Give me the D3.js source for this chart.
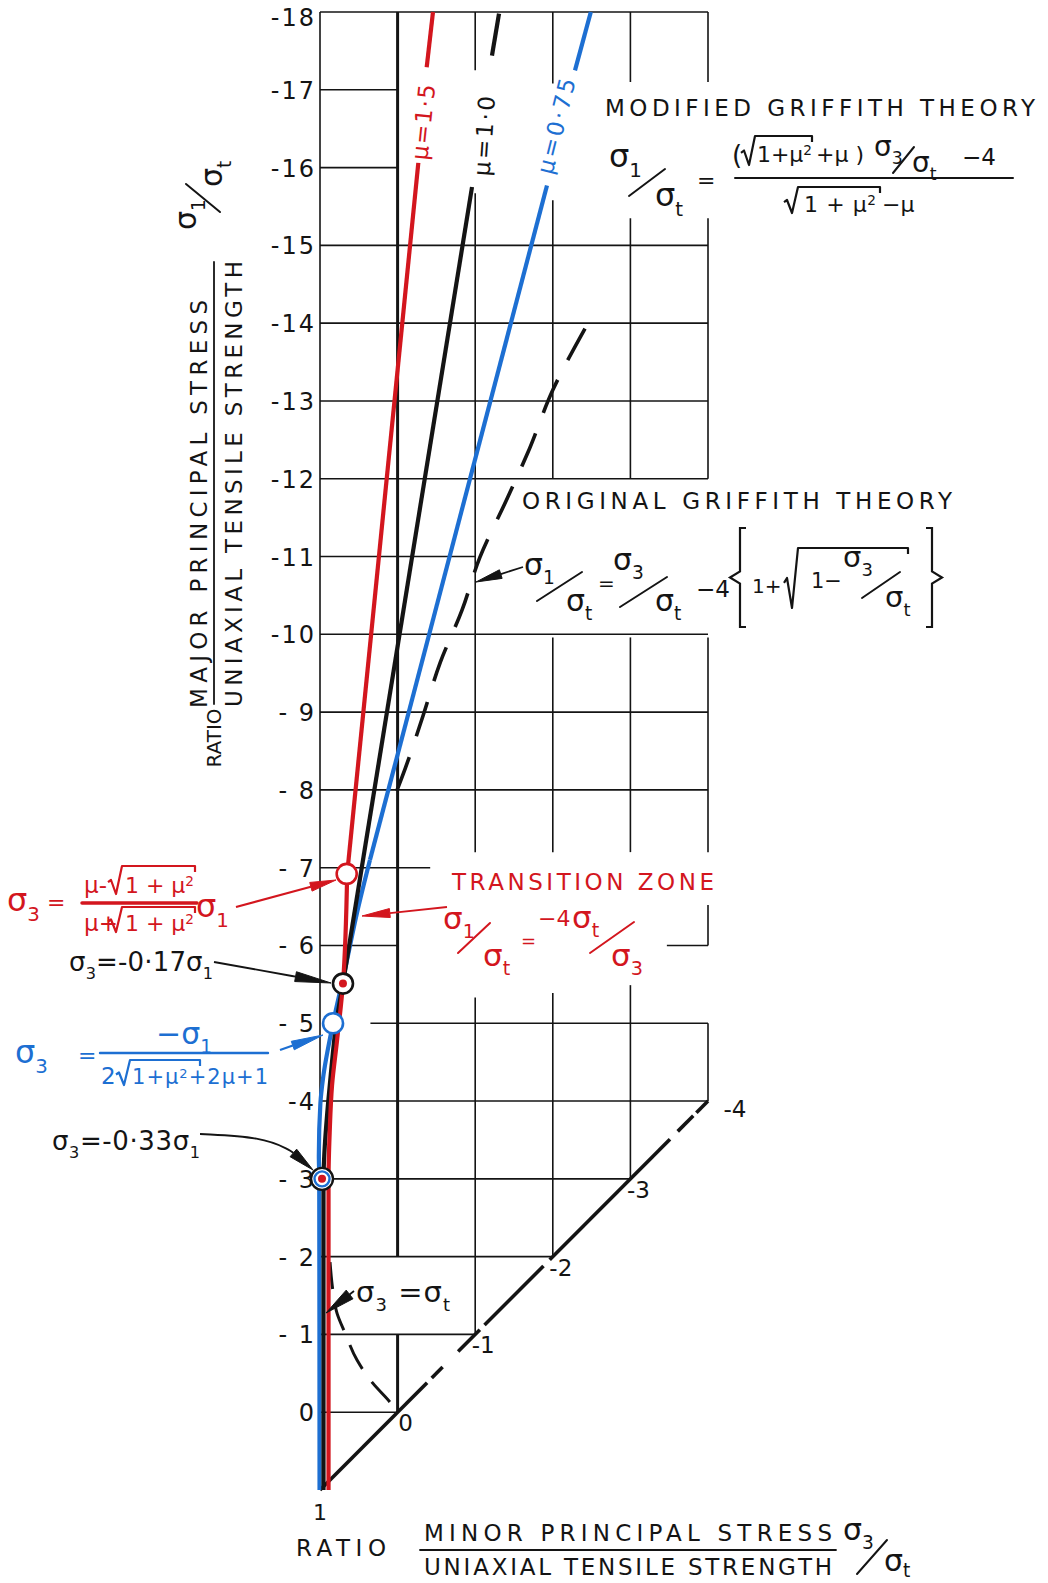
<!DOCTYPE html>
<html>
<head>
<meta charset="utf-8">
<title>Griffith theory</title>
<script src="https://cdn.jsdelivr.net/npm/d3@7"></script>
<style>
    html, body { margin: 0; padding: 0; background: #fff; }
    svg { display: block; }
    text { font-family: "DejaVu Sans", "Open Sans", sans-serif; }
</style>
</head>
<body>
<div id="render-zone"></div>
<script>
/* values are stress ratios [sigma3/sigma_t, sigma1/sigma_t] */
var sigma1Ticks = [-18, -17, -16, -15, -14, -13, -12, -11, -10, -9, -8, -7, -6, -5, -4, -3, -2, -1, 0];
var sigma1TickLabels = ["-18", "-17", "-16", "-15", "-14", "-13", "-12", "-11", "-10", "- 9", "- 8", "- 7", "- 6", "- 5", "-4", "- 3", "- 2", "- 1", "0"];
var diagTicks = [0, -1, -2, -3, -4];
var diagTickLabels = ["0", "-1", "-2", "-3", "-4"];
var muLabels = ["μ=1·5", "μ=1·0", "μ=0·75"];

/* modified griffith, mu = 1.5 */
var mu15Top = [[-0.456, -18], [-0.375, -17.29]];
var mu15Line = [[-0.267, -16.06], [0.65, -6.92]];
var mu15Knee = [[0.65, -6.92], [0.704, -5.51], [0.78, -4.78], [0.845, -4.2], [0.875, -3.6], [0.89, -3.0], [0.89, 1]];
/* modified griffith, mu = 1.0 */
var mu10Line = [[-0.959, -15.75], [0.704, -5.51]];
var mu10Knee = [[0.704, -5.51], [0.79, -5.0], [0.86, -4.35], [0.896, -3.97], [0.945, -3.3], [0.955, -3.0], [0.955, 1]];
var mu10Dash = [[-1.216, -17.44], [-1.307, -17.98]];
/* modified griffith, mu = 0.75 */
var mu075Top = [[-2.49, -18], [-2.286, -17.25]];
var mu075Line = [[-1.925, -15.77], [0.356, -7.1]];
var mu075Knee = [[0.356, -7.1], [0.523, -6.42], [0.678, -5.69], [0.832, -5.0], [0.96, -4.3], [0.995, -3.97], [1.015, -3.3], [1.01, -3.0], [1.006, 1]];
/* original griffith (dashed) */
var griffithCurve = [[-2.415, -13.93], [-2.0, -13.14], [-1.68, -12.34], [-1.40, -11.72], [-1.06, -10.99], [-0.83, -10.31], [-0.55, -9.64], [-0.33, -8.96], [-0.10, -8.28], [0.10, -7.76]];
var griffithTension = [[0.871, -1.93], [0.832, -1.55], [0.78, -1.27], [0.678, -1.02], [0.523, -0.67], [0.317, -0.37], [0.098, -0.13], [0, 0]];
/* sigma1 = sigma3 line, drawn in runs */
var diagonalRuns = [[1, -0.38], [-0.44, -0.58], [-0.78, -1.06], [-1.12, -1.88], [-1.96, -3.51], [-3.61, -3.81], [-3.85, -4]];
/* points marked with circles */
var pointOpenRed = [0.656, -6.92];
var pointDotRed = [0.704, -5.51];
var pointOpenBlue = [0.832, -5.0];
var pointTriple = [0.974, -3.0];
/* grid runs: rows [sigma1, [[s3from, s3to]..]], cols [sigma3, [[s1from, s1to]..]] */
var gridRows = [
    [-18, [[1, -4]]], [-17, [[1, 0]]], [-16, [[1, 0]]], [-15, [[1, -4]]], [-14, [[1, -4]]],
    [-13, [[1, -4]]], [-12, [[1, -4]]], [-11, [[1, -1]]], [-10, [[1, -4]]], [-9, [[1, -4]]],
    [-8, [[1, -4]]], [-7, [[1, -0.42]]], [-6, [[1, 0], [-3.47, -4]]], [-5, [[0.35, -4]]],
    [-4, [[1, -4]]], [-3, [[1, -3]]], [-2, [[1, -2]]], [-1, [[1, -1]]], [0, [[1, 0]]]
];
var gridCols = [
    [1, [[1, -18]]],
    [-1, [[-18, -17.25], [-15.67, -7.2], [-5.33, -1]]],
    [-2, [[-18, -17.08], [-15.58, -12], [-9.96, -7.2], [-5.39, -2]]],
    [-3, [[-18, -17.1], [-15.35, -12], [-9.96, -7.2], [-5.49, -3]]],
    [-4, [[-18, -17.1], [-15.35, -12], [-9.96, -7.2], [-6.52, -6], [-5, -4]]]
];
var zeroColRuns = [[-18, -2], [-1, 0]];

(function( w ) {

"use strict";

var _d, _x, _y, _svg,
    _rich, _slash, _radical, _arrow, _bracket, _fit,
    _drawGrid, _drawCurves, _drawMarkers, _drawAxes, _drawNotes,
    domEntry;

/* default settings */
_d = {
    width : 1048,
    height : 1583,
    ink : "#141414",
    red : "#d3161e",
    blue : "#1d6fd2",
    grid : 1.6,
    curve : 4.2
};

/* _rich
 * text made of pieces; a piece is a string or [text, level]
 * level 1 = subscript, -1 = superscript
 */
_rich = function( g, x, y, parts, size, fill, anchor ) {
    var t = g.append("text")
            .attr("x", x).attr("y", y)
            .attr("font-size", size)
            .attr("fill", fill || _d.ink)
            .attr("text-anchor", anchor || "start"),
        shift = 0;

    parts.forEach(function( p ) {
        var txt = ( typeof p === "string" ) ? p : p[0],
            lvl = ( typeof p === "string" ) ? 0 : p[1],
            off = lvl * size * 0.3,
            ts = t.append("tspan").text( txt ).attr("dy", off - shift);
        if( lvl !== 0 ){ ts.attr("font-size", size * 0.62); }
        shift = off;
    });
    return t;
};

/* squeeze or stretch a text to a width */
_fit = function( t, len ) {
    return t.attr("textLength", len).attr("lengthAdjust", "spacing");
};

_slash = function( g, x1, y1, x2, y2, col, lw ) {
    g.append("line")
        .attr("x1", x1).attr("y1", y1).attr("x2", x2).attr("y2", y2)
        .attr("stroke", col || _d.ink)
        .attr("stroke-width", lw || 2)
        .attr("stroke-linecap", "round");
};

/* _radical: root sign, x = left, yb = bottom, yt = top of the bar, x2 = bar end */
_radical = function( g, x, yb, yt, x2, col ) {
    var h = yb - yt;
    g.append("path")
        .attr("d", "M" + x + "," + (yb - h * 0.42) +
                   "L" + (x + 3) + "," + (yb - h * 0.5) +
                   "L" + (x + 8) + "," + yb +
                   "L" + (x + 14) + "," + yt +
                   "L" + x2 + "," + yt +
                   "L" + x2 + "," + (yt + 6))
        .attr("fill", "none")
        .attr("stroke", col || _d.ink)
        .attr("stroke-width", 2.2)
        .attr("stroke-linejoin", "round");
};

/* _arrow: leader through pts, wedge head at the last point */
_arrow = function( g, pts, len, wid, col, lw, curved ) {
    var n = pts.length,
        tip = pts[n - 1], prev = pts[n - 2],
        dx = tip[0] - prev[0], dy = tip[1] - prev[1],
        dd = Math.sqrt( dx * dx + dy * dy ),
        ux = dx / dd, uy = dy / dd,
        bx = tip[0] - ux * len, by = tip[1] - uy * len,
        path = pts.slice(0, n - 1).concat([[bx, by]]),
        ln = d3.line().curve( curved ? d3.curveBasis : d3.curveLinear );

    g.append("path")
        .attr("d", ln( path ))
        .attr("fill", "none")
        .attr("stroke", col)
        .attr("stroke-width", lw || 1.8);

    g.append("path")
        .attr("d", "M" + tip[0] + "," + tip[1] +
                   "L" + (bx - uy * wid / 2) + "," + (by + ux * wid / 2) +
                   "L" + (bx + uy * wid / 2) + "," + (by - ux * wid / 2) + "Z")
        .attr("fill", col)
        .attr("stroke", col)
        .attr("stroke-width", 1)
        .attr("stroke-linejoin", "round");
};

/* _bracket: square brace with a point, dir -1 points left, 1 points right */
_bracket = function( g, x, yt, yb, dir ) {
    var ym = ( yt + yb ) / 2,
        xs = x + dir * 10;
    g.append("path")
        .attr("d", "M" + (x - dir * 6) + "," + yt + "L" + x + "," + yt +
                   "L" + x + "," + (ym - 6) + "L" + xs + "," + ym +
                   "L" + x + "," + (ym + 6) + "L" + x + "," + yb +
                   "L" + (x - dir * 6) + "," + yb)
        .attr("fill", "none")
        .attr("stroke", _d.ink)
        .attr("stroke-width", 2.2);
};

/* _drawGrid
 * square grid above the sigma1 = sigma3 line, with gaps round the lettering
 */
_drawGrid = function( g ) {
    gridRows.forEach(function( r ) {
        r[1].forEach(function( s ) {
            g.append("line")
                .attr("x1", _x( s[0] )).attr("x2", _x( s[1] ))
                .attr("y1", _y( r[0] )).attr("y2", _y( r[0] ))
                .attr("stroke", _d.ink).attr("stroke-width", _d.grid);
        });
    });
    gridCols.forEach(function( c ) {
        c[1].forEach(function( s ) {
            g.append("line")
                .attr("x1", _x( c[0] )).attr("x2", _x( c[0] ))
                .attr("y1", _y( s[0] )).attr("y2", _y( s[1] ))
                .attr("stroke", _d.ink).attr("stroke-width", _d.grid);
        });
    });
    zeroColRuns.forEach(function( s ) {
        g.append("line")
            .attr("x1", _x( 0 )).attr("x2", _x( 0 ))
            .attr("y1", _y( s[0] )).attr("y2", _y( s[1] ))
            .attr("stroke", _d.ink).attr("stroke-width", 3);
    });
};

_drawCurves = function( g ) {
    var straight = d3.line().x(function( d ){ return _x( d[0] ); }).y(function( d ){ return _y( d[1] ); }),
        bend = d3.line().x(function( d ){ return _x( d[0] ); }).y(function( d ){ return _y( d[1] ); })
                 .curve( d3.curveMonotoneY ),
        put = function( data, gen, col, lw, dash ) {
            var p = g.append("path")
                .attr("d", gen( data ))
                .attr("fill", "none")
                .attr("stroke", col)
                .attr("stroke-width", lw);
            if( dash ){ p.attr("stroke-dasharray", dash); }
            return p;
        };

    /* sigma1 = sigma3 */
    diagonalRuns.forEach(function( r ) {
        put( [[r[0], r[0]], [r[1], r[1]]], straight, _d.ink, 3.6 );
    });

    /* original griffith */
    put( griffithCurve, bend, _d.ink, 3.6, "36,22" );
    put( griffithTension, bend, _d.ink, 3, "27,16" );

    /* modified griffith */
    put( mu075Top, straight, _d.blue, _d.curve );
    put( mu075Line, straight, _d.blue, _d.curve );
    put( mu075Knee, bend, _d.blue, _d.curve );

    put( mu10Dash, straight, _d.ink, _d.curve );
    put( mu10Line, straight, _d.ink, _d.curve );
    put( mu10Knee, bend, _d.ink, _d.curve );

    put( mu15Top, straight, _d.red, _d.curve );
    put( mu15Line, straight, _d.red, _d.curve );
    put( mu15Knee, bend, _d.red, _d.curve );

    /* line labels */
    [
        { t : muLabels[0], x : 423, y : 122, r : -84, c : _d.red,  len : 76 },
        { t : muLabels[1], x : 484, y : 136, r : -86, c : _d.ink,  len : 80 },
        { t : muLabels[2], x : 556, y : 126, r : -76, c : _d.blue, len : 98 }
    ].forEach(function( l ) {
        _fit( g.append("text")
            .attr("transform", "translate(" + l.x + "," + l.y + ") rotate(" + l.r + ")")
            .attr("text-anchor", "middle")
            .attr("dy", "0.36em")
            .attr("font-size", 23)
            .attr("fill", l.c)
            .text( l.t ), l.len );
    });
};

_drawMarkers = function( g ) {
    var ring = function( p, r, col, fill, lw ) {
        g.append("circle")
            .attr("cx", _x( p[0] )).attr("cy", _y( p[1] )).attr("r", r)
            .attr("fill", fill).attr("stroke", col || "none").attr("stroke-width", lw || 0);
    };
    ring( pointOpenRed, 10, _d.red, "#fff", 2.6 );
    ring( pointOpenBlue, 10, _d.blue, "#fff", 2.6 );
    ring( pointDotRed, 10, _d.ink, "#fff", 2.6 );
    ring( pointDotRed, 4, null, _d.red );
    ring( pointTriple, 11, _d.ink, "#fff", 2.4 );
    ring( pointTriple, 7.5, _d.blue, "#fff", 2.4 );
    ring( pointTriple, 4, null, _d.red );
};

_drawAxes = function( g ) {
    var rot, yl;

    /* sigma1 tick labels */
    g.selectAll("text.ytick")
        .data( sigma1Ticks )
        .enter().append("text")
        .attr("class", "ytick")
        .attr("x", 316)
        .attr("y", function( d ){ return _y( d ) + ( d === -18 ? 14 : 9 ); })
        .attr("text-anchor", "end")
        .attr("font-size", 24)
        .attr("letter-spacing", 2)
        .attr("fill", _d.ink)
        .text(function( d, i ){ return sigma1TickLabels[i]; });

    /* labels along sigma1 = sigma3 */
    g.selectAll("text.dtick")
        .data( diagTicks )
        .enter().append("text")
        .attr("class", "dtick")
        .attr("x", function( d ){ return _x( d ) + ( d === -4 ? 27 : 8 ); })
        .attr("y", function( d ){ return _y( d ) + ( d === -4 ? 16 : 19 ); })
        .attr("text-anchor", "middle")
        .attr("font-size", 23)
        .attr("fill", _d.ink)
        .text(function( d, i ){ return diagTickLabels[i]; });

    g.append("text")
        .attr("x", _x( 1 )).attr("y", 1520)
        .attr("text-anchor", "middle")
        .attr("font-size", 22)
        .attr("fill", _d.ink)
        .text("1");

    /* x title */
    _fit( _rich( g, 296, 1556, ["RATIO"], 23 ), 90 );
    _fit( _rich( g, 424, 1541, ["MINOR PRINCIPAL STRESS"], 23 ), 408 );
    _slash( g, 420, 1550, 836, 1550, _d.ink, 1.8 );
    _fit( _rich( g, 424, 1575, ["UNIAXIAL TENSILE STRENGTH"], 23 ), 408 );
    _rich( g, 843, 1540, ["σ", ["3", 1]], 30 );
    _slash( g, 857, 1574, 887, 1540 );
    _rich( g, 884, 1571, ["σ", ["t", 0.7]], 30 );

    /* y title */
    rot = function( x, y ){ return "translate(" + x + "," + y + ") rotate(-90)"; };
    _fit( _rich( g, 0, 0, ["MAJOR PRINCIPAL STRESS"], 23, _d.ink, "middle" )
        .attr("transform", rot( 207, 504 )), 408 );
    _slash( g, 214, 262, 214, 704, _d.ink, 1.8 );
    _fit( _rich( g, 0, 0, ["UNIAXIAL TENSILE STRENGTH"], 23, _d.ink, "middle" )
        .attr("transform", rot( 242, 484 )), 446 );
    _rich( g, 0, 0, ["RATIO"], 20, _d.ink, "middle" )
        .attr("transform", rot( 221, 738 ));

    yl = g.append("g").attr("transform", rot( 198, 192 ));
    _rich( yl, -38, -2, ["σ", ["1", 1]], 30 );
    _slash( yl, -20, 22, 8, -12 );
    _rich( yl, 5, 24, ["σ", ["t", 1]], 30 );
};

/* _drawNotes
 * the lettering round the curves
 */
_drawNotes = function( g ) {
    var R = _d.red, B = _d.blue, K = _d.ink;

    /* modified griffith */
    _fit( _rich( g, 605, 116, ["MODIFIED GRIFFITH THEORY"], 23 ), 430 );
    _rich( g, 609, 167, ["σ", ["1", 1]], 32 );
    _slash( g, 629, 196, 665, 169 );
    _rich( g, 655, 206, ["σ", ["t", 1]], 32 );
    _rich( g, 697, 188, ["="], 22 );
    _rich( g, 732, 164, ["("], 26 );
    _radical( g, 741, 165, 136, 812 );
    _fit( _rich( g, 757, 162, ["1+μ", ["2", -1]], 22 ), 55 );
    _rich( g, 816, 162, ["+μ )"], 22 );
    _rich( g, 874, 156, ["σ", ["3", 1]], 28 );
    _slash( g, 893, 173, 914, 147 );
    _rich( g, 912, 172, ["σ", ["t", 1]], 28 );
    _rich( g, 962, 165, ["−4"], 23 );
    _slash( g, 735, 178, 1013, 178 );
    _radical( g, 784, 213, 187, 880 );
    _fit( _rich( g, 804, 212, ["1 + μ", ["2", -1]], 22 ), 72 );
    _rich( g, 882, 212, ["−μ"], 22 );

    /* original griffith */
    _fit( _rich( g, 522, 509, ["ORIGINAL GRIFFITH THEORY"], 23 ), 430 );
    _arrow( g, [[523, 567], [476, 582]], 26, 9, K, 1.8 );
    _rich( g, 524, 575, ["σ", ["1", 1]], 30 );
    _slash( g, 537, 601, 582, 572 );
    _rich( g, 566, 611, ["σ", ["t", 1]], 30 );
    _rich( g, 598, 590, ["="], 20 );
    _rich( g, 613, 570, ["σ", ["3", 1]], 30 );
    _slash( g, 620, 607, 667, 577 );
    _rich( g, 655, 611, ["σ", ["t", 1]], 30 );
    _rich( g, 696, 597, ["−4"], 23 );
    _bracket( g, 740, 528, 627, -1 );
    _rich( g, 752, 593, ["1+"], 20 );
    _radical( g, 784, 608, 548, 908 );
    _rich( g, 811, 588, ["1−"], 21 );
    _rich( g, 843, 567, ["σ", ["3", 1]], 29 );
    _slash( g, 862, 598, 900, 572 );
    _rich( g, 885, 607, ["σ", ["t", 1]], 29 );
    _bracket( g, 932, 528, 627, 1 );

    /* transition zone */
    _fit( _rich( g, 452, 890, ["TRANSITION ZONE"], 23, R ), 262 );
    _arrow( g, [[447, 907], [362, 916]], 28, 9, R, 1.8 );
    _rich( g, 443, 929, ["σ", ["1", 1]], 31, R );
    _slash( g, 458, 953, 490, 923, R );
    _rich( g, 483, 966, ["σ", ["t", 1]], 31, R );
    _rich( g, 521, 947, ["="], 18, R );
    _rich( g, 538, 926, ["−4"], 22, R );
    _rich( g, 572, 928, ["σ", ["t", 1]], 31, R );
    _slash( g, 590, 953, 634, 922, R );
    _rich( g, 611, 966, ["σ", ["3", 1]], 31, R );

    /* red: intersection with the tension cut-off */
    _rich( g, 7, 911, ["σ", ["3", 1]], 32, R );
    _rich( g, 47, 910, ["="], 22, R );
    _rich( g, 84, 893, ["μ-"], 23, R );
    _radical( g, 108, 894, 866, 195, R );
    _fit( _rich( g, 125, 893, ["1 + μ", ["2", -1]], 22, R ), 69 );
    _slash( g, 82, 903, 197, 903, R, 3.5 );
    _rich( g, 84, 931, ["μ+"], 23, R );
    _radical( g, 108, 932, 907, 195, R );
    _fit( _rich( g, 125, 931, ["1 + μ", ["2", -1]], 22, R ), 69 );
    _rich( g, 196, 917, ["σ", ["1", 1]], 32, R );
    _arrow( g, [[236, 907], [336, 880]], 26, 9, R, 2.2 );

    /* black: sigma3 = -0.17 sigma1 */
    _fit( _rich( g, 69, 971, ["σ", ["3", 1], "=-0·17σ", ["1", 1]], 26 ), 144 );
    _arrow( g, [[214, 962], [292, 976], [331, 983]], 36, 10, K, 1.8 );

    /* blue */
    _rich( g, 15, 1063, ["σ", ["3", 1]], 32, B );
    _rich( g, 78, 1063, ["="], 22, B );
    _rich( g, 184, 1044, ["−σ", ["1", 1]], 30, B, "middle" );
    _slash( g, 100, 1053, 268, 1053, B, 2.4 );
    _rich( g, 101, 1084, ["2"], 23, B );
    _radical( g, 116, 1085, 1060, 200, B );
    _fit( _rich( g, 132, 1084, ["1+μ", ["2", -1], "+2μ+1"], 21, B ), 136 );
    _arrow( g, [[280, 1050], [323, 1035]], 32, 9, B, 2.2 );

    /* black: sigma3 = -0.33 sigma1 */
    _fit( _rich( g, 52, 1150, ["σ", ["3", 1], "=-0·33σ", ["1", 1]], 26 ), 148 );
    _arrow( g, [[200, 1134], [262, 1137], [290, 1150], [313, 1170]], 26, 10, K, 1.8, true );

    /* tension cut-off */
    _fit( _rich( g, 356, 1302, ["σ", ["3", 1], " =σ", ["t", 1]], 29 ), 94 );
    _arrow( g, [[354, 1291], [326, 1313]], 30, 11, K, 1.8 );
};

/* domEntry
 * builds the svg and draws everything
 */
domEntry = function( ) {
    _x = d3.scaleLinear().domain([1, -4]).range([320, 708]);
    _y = d3.scaleLinear().domain([1, -18]).range([1490, 12]);

    _svg = d3.select("#render-zone").append("svg")
        .attr("width", _d.width)
        .attr("height", _d.height)
        .attr("viewBox", "0 0 " + _d.width + " " + _d.height);

    _svg.append("rect").attr("width", _d.width).attr("height", _d.height).attr("fill", "#fff");

    _drawGrid( _svg.append("g").attr("data-name", "grid") );
    _drawCurves( _svg.append("g").attr("data-name", "curves") );
    _drawMarkers( _svg.append("g").attr("data-name", "markers") );
    _drawAxes( _svg.append("g").attr("data-name", "axes") );
    _drawNotes( _svg.append("g").attr("data-name", "notes") );
};

domEntry( );

})( window );
</script>
</body>
</html>
